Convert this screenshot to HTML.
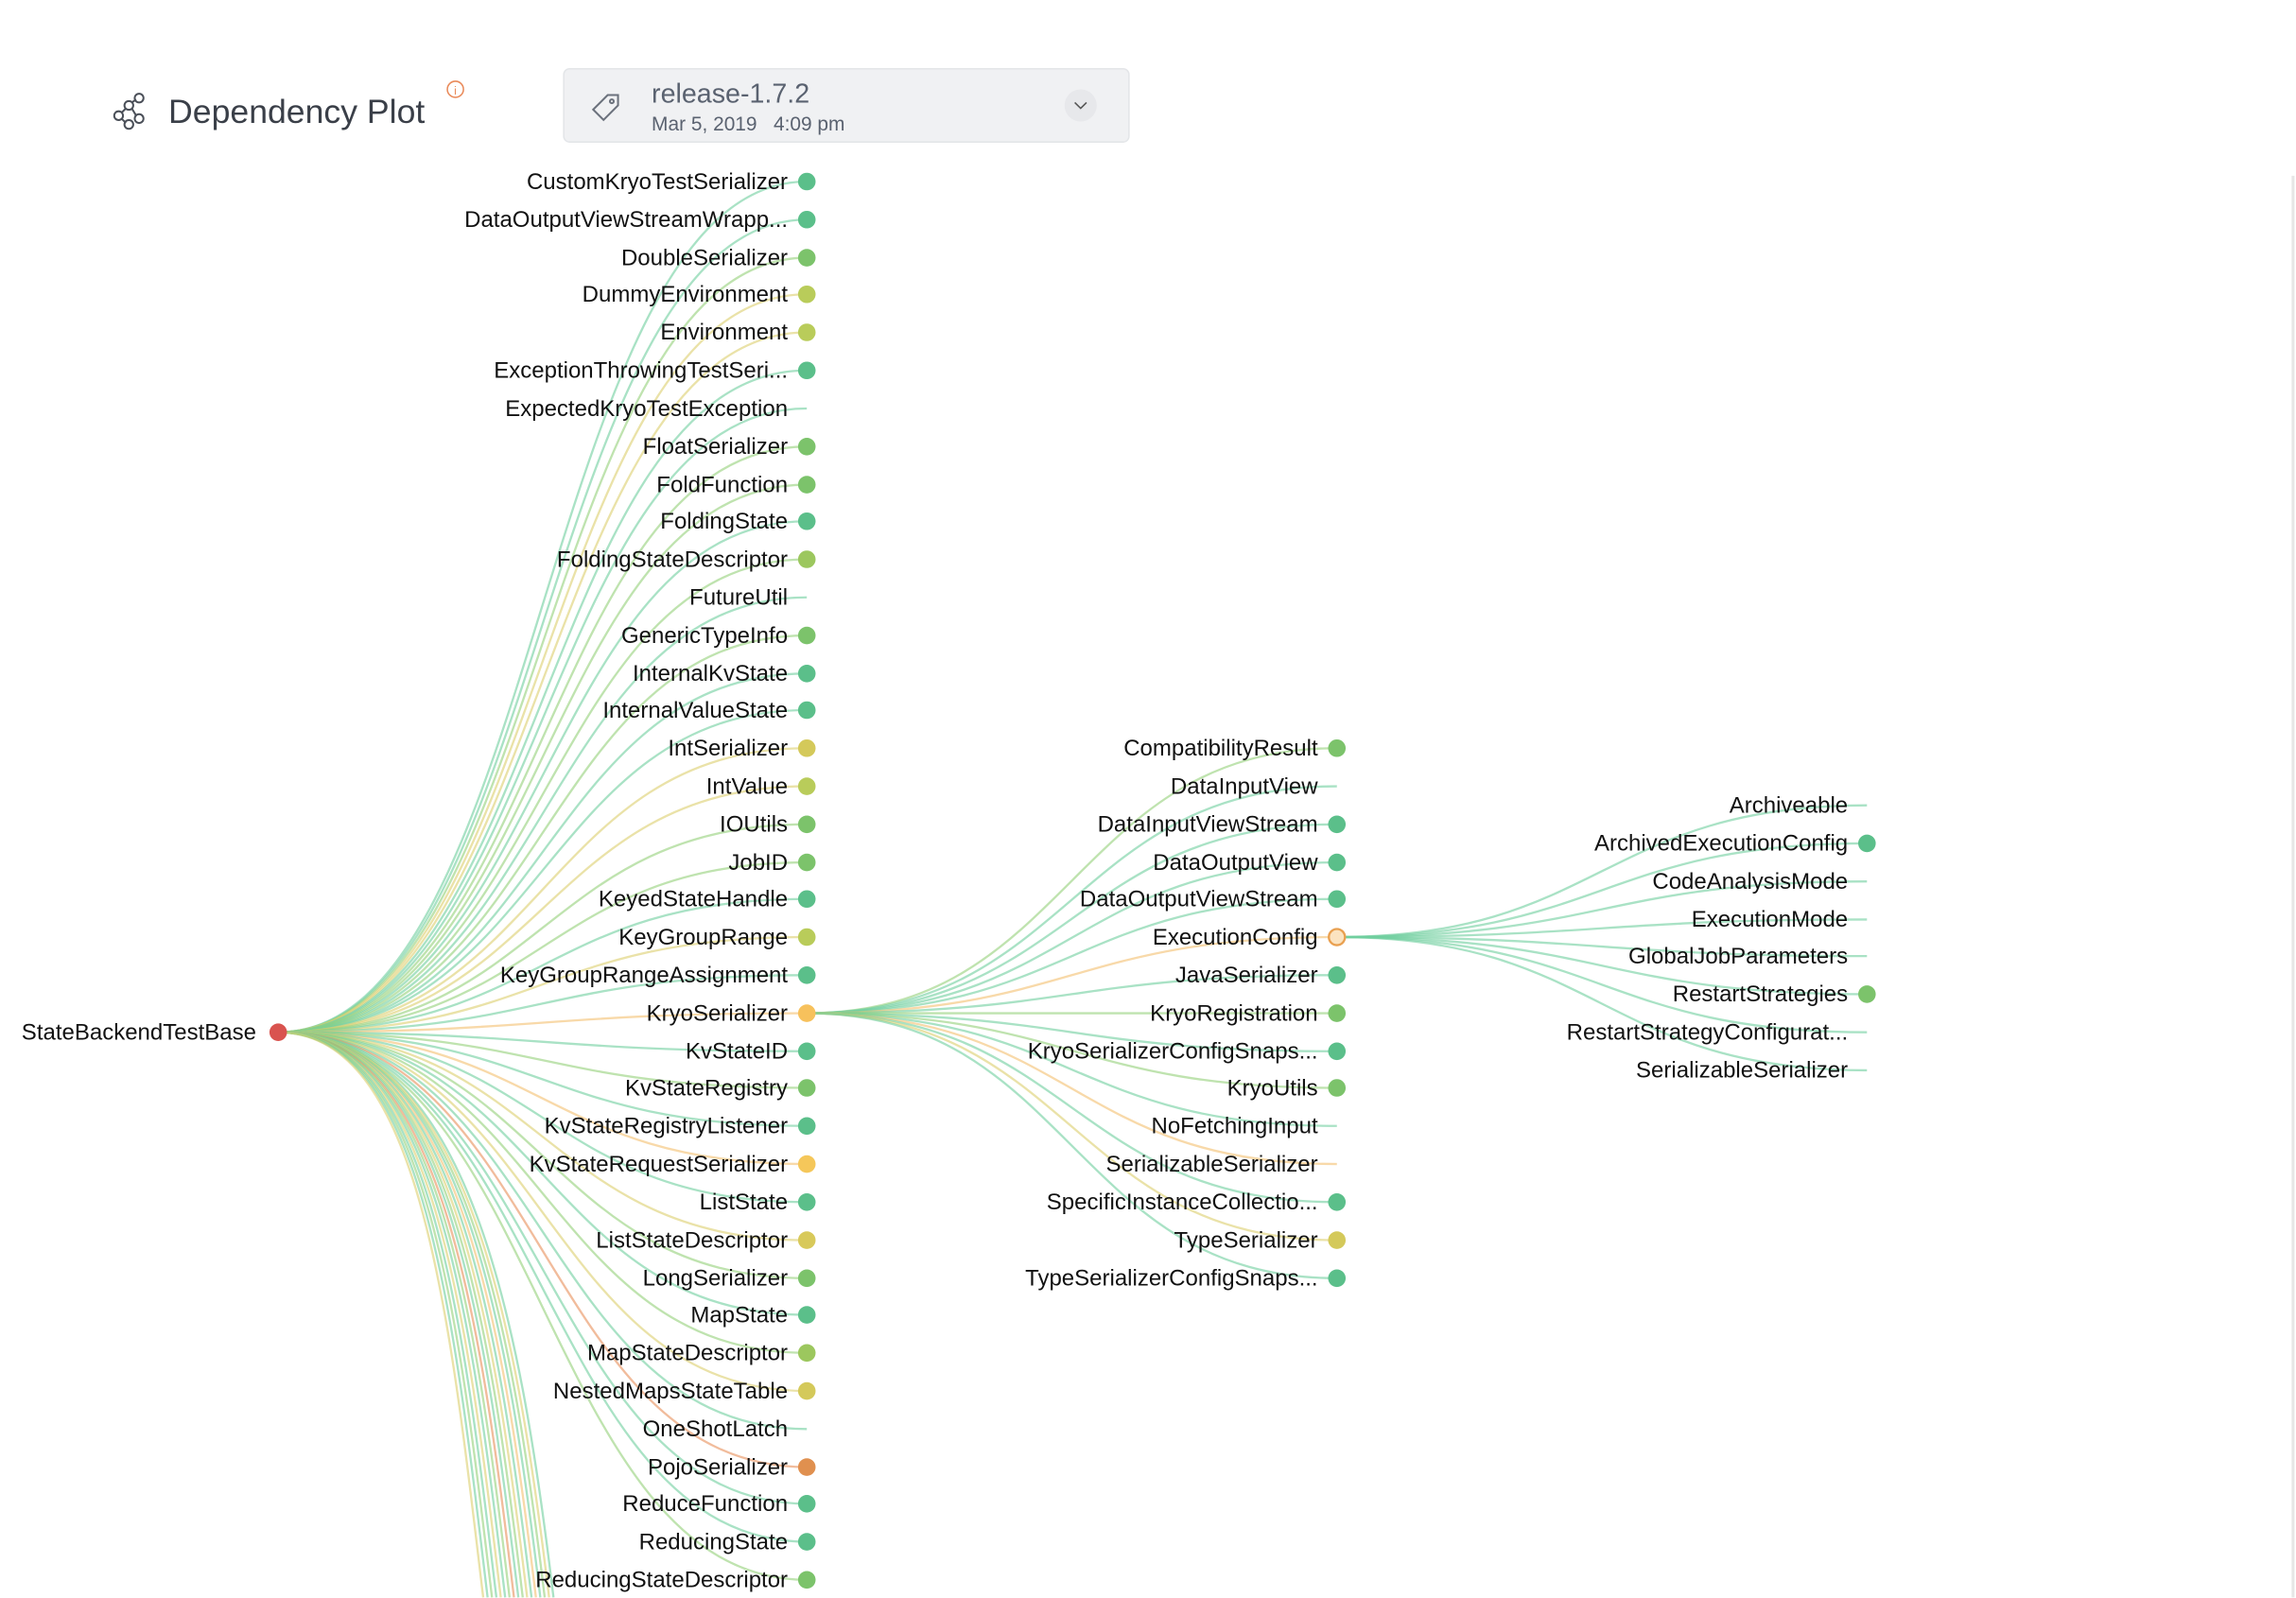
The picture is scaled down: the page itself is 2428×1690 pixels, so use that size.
<!DOCTYPE html>
<html><head><meta charset="utf-8"><style>
html,body{margin:0;padding:0;background:#fff;overflow:hidden;width:2428px;height:1690px}
svg{display:block;overflow:hidden}
text{font-family:"Liberation Sans",sans-serif}
.n{font-size:15.5px;fill:#111;text-anchor:end}
path.e{fill:none;stroke-width:1.5;stroke-opacity:.6}
.t{stroke:#6fcf9f}.l{stroke:#95d17a}.y{stroke:#dccf6e}.o{stroke:#f3c070}.r{stroke:#e8905a}
</style></head><body>
<svg width="2428" height="1690" viewBox="0 0 1568 1091.4" preserveAspectRatio="none" xmlns="http://www.w3.org/2000/svg">
<line x1="1566" y1="120" x2="1566" y2="1091" stroke="#e6e6e6" stroke-width="2"/>
<g stroke="#4a4f58" stroke-width="1.3" fill="none">
<circle cx="81" cy="79" r="3"/><circle cx="88" cy="72" r="3"/><circle cx="95" cy="67" r="3"/><circle cx="95" cy="81" r="3"/><circle cx="88" cy="85" r="3"/>
<path d="M83 77L86 74M90 70L93 68M90 74L93 79M83 81L86 84"/>
</g>
<text x="115" y="84" font-size="23" fill="#3a3f48">Dependency Plot</text>
<circle cx="311" cy="61" r="5.5" fill="none" stroke="#e98a5a" stroke-width="1"/>
<text x="311" y="64.5" font-size="8" fill="#e98a5a" text-anchor="middle">i</text>
<rect x="385" y="47" width="386" height="50" rx="4" fill="#f0f1f3" stroke="#e3e5e8"/>
<g transform="translate(415 72) rotate(-45)" fill="none" stroke="#6b717c" stroke-width="1.3"><path d="M-9 -5H5L10 0L5 5H-9Z"/><circle cx="4" cy="0" r="1.3"/></g>
<text x="445" y="70" font-size="18.5" fill="#5a6270">release-1.7.2</text>
<text x="445" y="89" font-size="13.5" fill="#5a6270">Mar 5, 2019 &#160;&#160;4:09 pm</text>
<circle cx="738" cy="72" r="11" fill="#e7e8eb"/>
<path d="M734 70L738 74L742 70" fill="none" stroke="#555" stroke-width="1"/>
<g>
<path class="e t" d="M190 705C370 705 370 124 551 124"/>
<path class="e t" d="M190 705C370 705 370 150 551 150"/>
<path class="e l" d="M190 705C370 705 370 176 551 176"/>
<path class="e y" d="M190 705C370 705 370 201 551 201"/>
<path class="e y" d="M190 705C370 705 370 227 551 227"/>
<path class="e t" d="M190 705C370 705 370 253 551 253"/>
<path class="e t" d="M190 705C370 705 370 279 551 279"/>
<path class="e l" d="M190 705C370 705 370 305 551 305"/>
<path class="e l" d="M190 705C370 705 370 331 551 331"/>
<path class="e t" d="M190 705C370 705 370 356 551 356"/>
<path class="e l" d="M190 705C370 705 370 382 551 382"/>
<path class="e t" d="M190 705C370 705 370 408 551 408"/>
<path class="e l" d="M190 705C370 705 370 434 551 434"/>
<path class="e t" d="M190 705C370 705 370 460 551 460"/>
<path class="e t" d="M190 705C370 705 370 485 551 485"/>
<path class="e y" d="M190 705C370 705 370 511 551 511"/>
<path class="e y" d="M190 705C370 705 370 537 551 537"/>
<path class="e l" d="M190 705C370 705 370 563 551 563"/>
<path class="e l" d="M190 705C370 705 370 589 551 589"/>
<path class="e t" d="M190 705C370 705 370 614 551 614"/>
<path class="e y" d="M190 705C370 705 370 640 551 640"/>
<path class="e t" d="M190 705C370 705 370 666 551 666"/>
<path class="e o" d="M190 705C370 705 370 692 551 692"/>
<path class="e t" d="M190 705C370 705 370 718 551 718"/>
<path class="e l" d="M190 705C370 705 370 743 551 743"/>
<path class="e t" d="M190 705C370 705 370 769 551 769"/>
<path class="e o" d="M190 705C370 705 370 795 551 795"/>
<path class="e t" d="M190 705C370 705 370 821 551 821"/>
<path class="e y" d="M190 705C370 705 370 847 551 847"/>
<path class="e l" d="M190 705C370 705 370 873 551 873"/>
<path class="e t" d="M190 705C370 705 370 898 551 898"/>
<path class="e l" d="M190 705C370 705 370 924 551 924"/>
<path class="e y" d="M190 705C370 705 370 950 551 950"/>
<path class="e t" d="M190 705C370 705 370 976 551 976"/>
<path class="e r" d="M190 705C370 705 370 1002 551 1002"/>
<path class="e t" d="M190 705C370 705 370 1027 551 1027"/>
<path class="e t" d="M190 705C370 705 370 1053 551 1053"/>
<path class="e l" d="M190 705C370 705 370 1079 551 1079"/>
<path class="e t" d="M190 705C320 705 355 900 378 1091"/>
<path class="e y" d="M190 705C318 705 352 900 375 1091"/>
<path class="e l" d="M190 705C316 705 349 900 372 1091"/>
<path class="e t" d="M190 705C314 705 346 900 369 1091"/>
<path class="e o" d="M190 705C312 705 343 900 366 1091"/>
<path class="e t" d="M190 705C310 705 340 900 363 1091"/>
<path class="e y" d="M190 705C308 705 337 900 360 1091"/>
<path class="e l" d="M190 705C306 705 334 900 357 1091"/>
<path class="e t" d="M190 705C304 705 331 900 354 1091"/>
<path class="e r" d="M190 705C302 705 328 900 351 1091"/>
<path class="e l" d="M190 705C300 705 325 900 348 1091"/>
<path class="e t" d="M190 705C298 705 322 900 345 1091"/>
<path class="e y" d="M190 705C296 705 319 900 342 1091"/>
<path class="e t" d="M190 705C294 705 316 900 339 1091"/>
<path class="e l" d="M190 705C292 705 313 900 336 1091"/>
<path class="e t" d="M190 705C290 705 310 900 333 1091"/>
<path class="e y" d="M190 705C288 705 307 900 330 1091"/>
</g>
<g>
<path class="e l" d="M551 692C732 692 732 511 913 511"/>
<path class="e t" d="M551 692C732 692 732 537 913 537"/>
<path class="e t" d="M551 692C732 692 732 563 913 563"/>
<path class="e t" d="M551 692C732 692 732 589 913 589"/>
<path class="e t" d="M551 692C732 692 732 614 913 614"/>
<path class="e o" d="M551 692C732 692 732 640 913 640"/>
<path class="e t" d="M551 692C732 692 732 666 913 666"/>
<path class="e l" d="M551 692C732 692 732 692 913 692"/>
<path class="e t" d="M551 692C732 692 732 718 913 718"/>
<path class="e l" d="M551 692C732 692 732 743 913 743"/>
<path class="e t" d="M551 692C732 692 732 769 913 769"/>
<path class="e o" d="M551 692C732 692 732 795 913 795"/>
<path class="e t" d="M551 692C732 692 732 821 913 821"/>
<path class="e y" d="M551 692C732 692 732 847 913 847"/>
<path class="e t" d="M551 692C732 692 732 873 913 873"/>
</g>
<g>
<path class="e t" d="M913 640C1094 640 1094 550 1275 550"/>
<path class="e t" d="M913 640C1094 640 1094 576 1275 576"/>
<path class="e t" d="M913 640C1094 640 1094 602 1275 602"/>
<path class="e t" d="M913 640C1094 640 1094 628 1275 628"/>
<path class="e t" d="M913 640C1094 640 1094 653 1275 653"/>
<path class="e t" d="M913 640C1094 640 1094 679 1275 679"/>
<path class="e t" d="M913 640C1094 640 1094 705 1275 705"/>
<path class="e t" d="M913 640C1094 640 1094 731 1275 731"/>
</g>
<circle cx="190" cy="705" r="6" fill="#d9534f"/>
<text class="n" x="175" y="710">StateBackendTestBase</text>
<g>
<text class="n" x="538" y="129">CustomKryoTestSerializer</text>
<text class="n" x="538" y="155">DataOutputViewStreamWrapp...</text>
<text class="n" x="538" y="181">DoubleSerializer</text>
<text class="n" x="538" y="206">DummyEnvironment</text>
<text class="n" x="538" y="232">Environment</text>
<text class="n" x="538" y="258">ExceptionThrowingTestSeri...</text>
<text class="n" x="538" y="284">ExpectedKryoTestException</text>
<text class="n" x="538" y="310">FloatSerializer</text>
<text class="n" x="538" y="336">FoldFunction</text>
<text class="n" x="538" y="361">FoldingState</text>
<text class="n" x="538" y="387">FoldingStateDescriptor</text>
<text class="n" x="538" y="413">FutureUtil</text>
<text class="n" x="538" y="439">GenericTypeInfo</text>
<text class="n" x="538" y="465">InternalKvState</text>
<text class="n" x="538" y="490">InternalValueState</text>
<text class="n" x="538" y="516">IntSerializer</text>
<text class="n" x="538" y="542">IntValue</text>
<text class="n" x="538" y="568">IOUtils</text>
<text class="n" x="538" y="594">JobID</text>
<text class="n" x="538" y="619">KeyedStateHandle</text>
<text class="n" x="538" y="645">KeyGroupRange</text>
<text class="n" x="538" y="671">KeyGroupRangeAssignment</text>
<text class="n" x="538" y="697">KryoSerializer</text>
<text class="n" x="538" y="723">KvStateID</text>
<text class="n" x="538" y="748">KvStateRegistry</text>
<text class="n" x="538" y="774">KvStateRegistryListener</text>
<text class="n" x="538" y="800">KvStateRequestSerializer</text>
<text class="n" x="538" y="826">ListState</text>
<text class="n" x="538" y="852">ListStateDescriptor</text>
<text class="n" x="538" y="878">LongSerializer</text>
<text class="n" x="538" y="903">MapState</text>
<text class="n" x="538" y="929">MapStateDescriptor</text>
<text class="n" x="538" y="955">NestedMapsStateTable</text>
<text class="n" x="538" y="981">OneShotLatch</text>
<text class="n" x="538" y="1007">PojoSerializer</text>
<text class="n" x="538" y="1032">ReduceFunction</text>
<text class="n" x="538" y="1058">ReducingState</text>
<text class="n" x="538" y="1084">ReducingStateDescriptor</text>
</g>
<g>
<circle cx="551" cy="124" r="6" fill="#5bbf8a"/>
<circle cx="551" cy="150" r="6" fill="#5bbf8a"/>
<circle cx="551" cy="176" r="6" fill="#7cc36b"/>
<circle cx="551" cy="201" r="6" fill="#b9cc5a"/>
<circle cx="551" cy="227" r="6" fill="#b9cc5a"/>
<circle cx="551" cy="253" r="6" fill="#5bbf8a"/>
<circle cx="551" cy="305" r="6" fill="#7cc36b"/>
<circle cx="551" cy="331" r="6" fill="#7cc36b"/>
<circle cx="551" cy="356" r="6" fill="#5bbf8a"/>
<circle cx="551" cy="382" r="6" fill="#9cc75e"/>
<circle cx="551" cy="434" r="6" fill="#7cc36b"/>
<circle cx="551" cy="460" r="6" fill="#5bbf8a"/>
<circle cx="551" cy="485" r="6" fill="#5bbf8a"/>
<circle cx="551" cy="511" r="6" fill="#d4c95a"/>
<circle cx="551" cy="537" r="6" fill="#b9cc5a"/>
<circle cx="551" cy="563" r="6" fill="#7cc36b"/>
<circle cx="551" cy="589" r="6" fill="#7cc36b"/>
<circle cx="551" cy="614" r="6" fill="#5bbf8a"/>
<circle cx="551" cy="640" r="6" fill="#b9cc5a"/>
<circle cx="551" cy="666" r="6" fill="#5bbf8a"/>
<circle cx="551" cy="692" r="6" fill="#f7c15c"/>
<circle cx="551" cy="718" r="6" fill="#5bbf8a"/>
<circle cx="551" cy="743" r="6" fill="#7cc36b"/>
<circle cx="551" cy="769" r="6" fill="#5bbf8a"/>
<circle cx="551" cy="795" r="6" fill="#f5c75a"/>
<circle cx="551" cy="821" r="6" fill="#5bbf8a"/>
<circle cx="551" cy="847" r="6" fill="#d8c95a"/>
<circle cx="551" cy="873" r="6" fill="#7cc36b"/>
<circle cx="551" cy="898" r="6" fill="#5bbf8a"/>
<circle cx="551" cy="924" r="6" fill="#9cc75e"/>
<circle cx="551" cy="950" r="6" fill="#d4c95a"/>
<circle cx="551" cy="1002" r="6" fill="#e0904f"/>
<circle cx="551" cy="1027" r="6" fill="#5bbf8a"/>
<circle cx="551" cy="1053" r="6" fill="#5bbf8a"/>
<circle cx="551" cy="1079" r="6" fill="#7cc36b"/>
</g>
<g>
<text class="n" x="900" y="516">CompatibilityResult</text>
<text class="n" x="900" y="542">DataInputView</text>
<text class="n" x="900" y="568">DataInputViewStream</text>
<text class="n" x="900" y="594">DataOutputView</text>
<text class="n" x="900" y="619">DataOutputViewStream</text>
<text class="n" x="900" y="645">ExecutionConfig</text>
<text class="n" x="900" y="671">JavaSerializer</text>
<text class="n" x="900" y="697">KryoRegistration</text>
<text class="n" x="900" y="723">KryoSerializerConfigSnaps...</text>
<text class="n" x="900" y="748">KryoUtils</text>
<text class="n" x="900" y="774">NoFetchingInput</text>
<text class="n" x="900" y="800">SerializableSerializer</text>
<text class="n" x="900" y="826">SpecificInstanceCollectio...</text>
<text class="n" x="900" y="852">TypeSerializer</text>
<text class="n" x="900" y="878">TypeSerializerConfigSnaps...</text>
<circle cx="913" cy="511" r="6" fill="#7cc36b"/>
<circle cx="913" cy="563" r="6" fill="#5bbf8a"/>
<circle cx="913" cy="589" r="6" fill="#5bbf8a"/>
<circle cx="913" cy="614" r="6" fill="#5bbf8a"/>
<circle cx="913" cy="640" r="5.5" fill="#fbe3c0" stroke="#e9a050" stroke-width="1.5"/>
<circle cx="913" cy="666" r="6" fill="#5bbf8a"/>
<circle cx="913" cy="692" r="6" fill="#7cc36b"/>
<circle cx="913" cy="718" r="6" fill="#5bbf8a"/>
<circle cx="913" cy="743" r="6" fill="#7cc36b"/>
<circle cx="913" cy="821" r="6" fill="#5bbf8a"/>
<circle cx="913" cy="847" r="6" fill="#d4c95a"/>
<circle cx="913" cy="873" r="6" fill="#5bbf8a"/>
</g>
<g>
<text class="n" x="1262" y="555">Archiveable</text>
<text class="n" x="1262" y="581">ArchivedExecutionConfig</text>
<text class="n" x="1262" y="607">CodeAnalysisMode</text>
<text class="n" x="1262" y="633">ExecutionMode</text>
<text class="n" x="1262" y="658">GlobalJobParameters</text>
<text class="n" x="1262" y="684">RestartStrategies</text>
<text class="n" x="1262" y="710">RestartStrategyConfigurat...</text>
<text class="n" x="1262" y="736">SerializableSerializer</text>
<circle cx="1275" cy="576" r="6" fill="#5bbf8a"/>
<circle cx="1275" cy="679" r="6" fill="#7cc36b"/>
</g>
</svg>
</body></html>
